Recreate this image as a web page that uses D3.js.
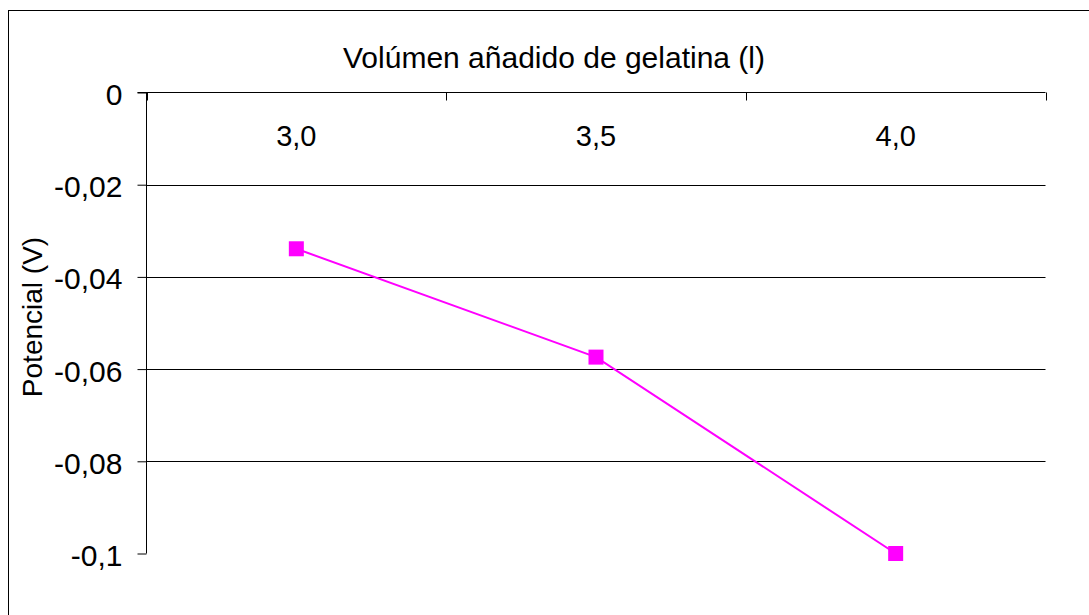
<!DOCTYPE html>
<html><head><meta charset="utf-8">
<script src="https://cdn.jsdelivr.net/npm/d3@7"></script>
<style>body{margin:0;background:#fff}svg{display:block}text{font-family:"Liberation Sans",Arial,sans-serif;fill:#000}</style>
</head><body>
<svg id="c" width="1089" height="615"></svg>
<script>
const categories = ["3,0", "3,5", "4,0"];
const values = [-0.0339, -0.0574, -0.1];
const yTicks = [0, -0.02, -0.04, -0.06, -0.08, -0.1];
const yTickLabels = ["0", "-0,02", "-0,04", "-0,06", "-0,08", "-0,1"];
const xTitle = "Volúmen añadido de gelatina (l)";
const yTitle = "Potencial (V)";

const FS = 29;
const svg = d3.select("#c");
const L = 146.5, R = 1045.5, T = 92.5, B = 553.5;
svg.append("rect").attr("x", 8.5).attr("y", 10.5).attr("width", 1200).attr("height", 700)
  .attr("fill", "#fff").attr("stroke", "#000").attr("stroke-width", 1);

const x = d3.scaleBand().domain(categories).range([L, R]).padding(0);
const y = d3.scaleLinear().domain([0, -0.1]).range([T, B]);

// gridlines
svg.append("g").selectAll("line").data(yTicks.filter(v => v !== 0 && v !== -0.1)).join("line")
  .attr("x1", L).attr("x2", R).attr("y1", d => Math.round(y(d)) + 0.5).attr("y2", d => Math.round(y(d)) + 0.5)
  .attr("stroke", "#000").attr("stroke-width", 1);

// y axis
const ya = d3.axisLeft(y).tickValues(yTicks).tickFormat((d, i) => yTickLabels[i]).tickSize(9).tickPadding(15);
const yg = svg.append("g").attr("transform", `translate(${L},0)`).call(ya);
yg.select(".domain").attr("d", `M0,${T}V${B}`).attr("stroke", "#000");
yg.selectAll("text").attr("font-size", 30).attr("dy", "0.4em");

// x axis at top (y=0)
const boundaries = categories.map(c => x(c)).concat([R]);
svg.append("line").attr("x1", L - 9).attr("x2", R).attr("y1", T).attr("y2", T).attr("stroke", "#000");
svg.append("g").selectAll("line").data(boundaries).join("line")
  .attr("x1", d => Math.round(d) + 0.5).attr("x2", d => Math.round(d) + 0.5).attr("y1", T).attr("y2", T + 8)
  .attr("stroke", "#000");
svg.append("g").selectAll("text").data(categories).join("text")
  .attr("x", d => x(d) + x.bandwidth() / 2).attr("y", 146).attr("text-anchor", "middle")
  .attr("font-size", FS).text(d => d);

// titles
svg.append("text").attr("x", 554).attr("y", 68).attr("text-anchor", "middle").attr("font-size", 30).text(xTitle);
svg.append("text").attr("transform", `translate(42,317) rotate(-90)`).attr("text-anchor", "middle").attr("font-size", 28).text(yTitle);

// series
const pts = categories.map((c, i) => [x(c) + x.bandwidth() / 2, y(values[i])]);
svg.append("path").attr("d", d3.line()(pts)).attr("fill", "none").attr("stroke", "#FF00FF").attr("stroke-width", 2);
svg.append("g").selectAll("rect").data(pts).join("rect")
  .attr("x", d => d[0] - 7.5).attr("y", d => d[1] - 7.5).attr("width", 15).attr("height", 15)
  .attr("fill", "#FF00FF");
</script>
</body></html>
